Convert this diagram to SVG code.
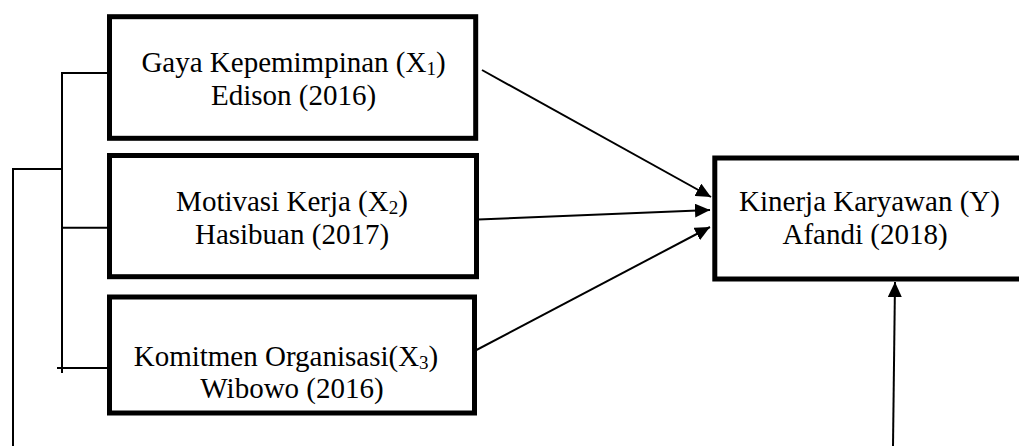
<svg xmlns="http://www.w3.org/2000/svg" width="1019" height="446" viewBox="0 0 1019 446">
<style>
.box{fill:#fff;stroke:#000;stroke-width:5;stroke-linejoin:miter}
.t{font-family:"Liberation Serif","Times New Roman",serif;font-size:29px;fill:#000;text-anchor:middle}
.sub{font-size:19px}
.ln{fill:none;stroke:#000;stroke-width:2}
.ar{fill:none;stroke:#000;stroke-width:2;marker-end:url(#ah)}
</style>
<defs>
<marker id="ah" markerUnits="userSpaceOnUse" markerWidth="16" markerHeight="14" refX="15" refY="7" orient="auto" viewBox="0 0 16 14">
<path d="M0,0 L15,7 L0,14 Z" fill="#000"/>
</marker>
</defs>
<g id="connectors">
<polyline class="ln" points="112,73 62,73 62,373"/>
<line class="ln" x1="62" y1="227.7" x2="115" y2="227.7"/>
<line class="ln" x1="57" y1="368" x2="107" y2="368"/>
<polyline class="ln" points="62,169 13,169 13,446"/>
<line class="ar" x1="482" y1="70" x2="711" y2="197"/>
<line class="ar" x1="478" y1="219.5" x2="710" y2="210"/>
<line class="ar" x1="465" y1="356" x2="710" y2="227"/>
<line class="ar" x1="893" y1="446" x2="895" y2="282"/>
</g>
<g id="x1">
<rect class="box" x="109.5" y="16.7" width="366.2" height="121.6"/>
<text class="t" x="293.5" y="71.7">Gaya Kepemimpinan (X<tspan class="sub" dy="3">1</tspan><tspan dy="-3">)</tspan></text>
<text class="t" x="293.5" y="105">Edison (2016)</text>
</g>
<g id="x2">
<rect class="box" x="109.5" y="155.5" width="367" height="121.2"/>
<text class="t" x="292" y="210.7">Motivasi Kerja (X<tspan class="sub" dy="3">2</tspan><tspan dy="-3">)</tspan></text>
<text class="t" x="292" y="244">Hasibuan (2017)</text>
</g>
<g id="x3">
<rect class="box" x="109.5" y="297" width="365" height="116"/>
<text class="t" x="286" y="366">Komitmen Organisasi(X<tspan class="sub" dy="3">3</tspan><tspan dy="-3">)</tspan></text>
<text class="t" x="292" y="397.5">Wibowo (2016)</text>
</g>
<g id="y">
<rect class="box" x="714.8" y="158" width="320" height="121"/>
<text class="t" x="869.5" y="210.7">Kinerja Karyawan (Y)</text>
<text class="t" x="865" y="244">Afandi (2018)</text>
</g>
</svg>
